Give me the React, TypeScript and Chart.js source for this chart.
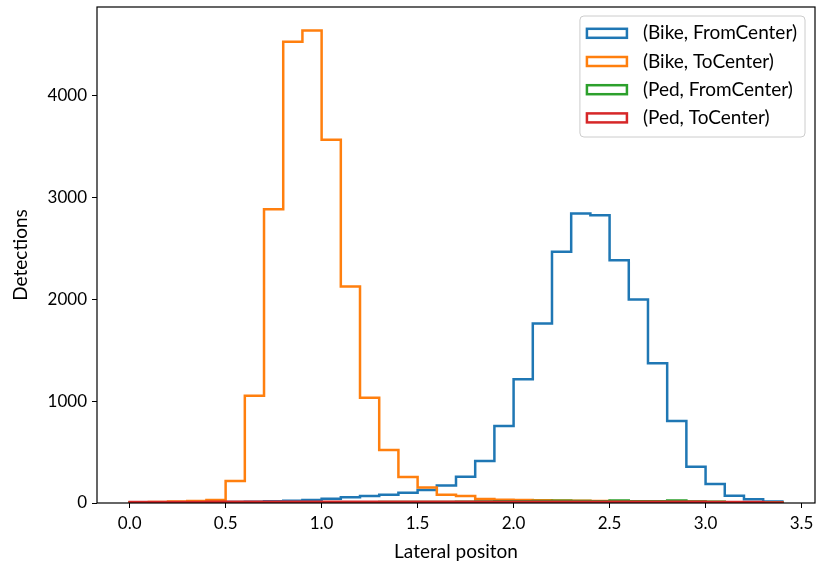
import React, { useEffect, useRef } from "react";
import { Chart, registerables } from "chart.js";

Chart.register(...registerables);

// Bin edges: 0.0 .. 3.4 step 0.1 (34 bins)
const binStart = 0.0;
const binWidth = 0.1;

const seriesLabels = ["(Bike, FromCenter)", "(Bike, ToCenter)", "(Ped, FromCenter)", "(Ped, ToCenter)"];
const seriesColors = ["#1f77b4", "#ff7f0e", "#2ca02c", "#d62728"];

const bikeFromCenter = [
  2, 3, 3, 4, 5, 9, 12, 16, 22, 30,
  42, 57, 68, 80, 100, 127, 172, 258, 412, 755,
  1213, 1762, 2464, 2839, 2822, 2382, 1997, 1370, 804, 356,
  186, 72, 38, 15,
];
const bikeToCenter = [
  8, 10, 15, 20, 29, 216, 1052, 2881, 4526, 4634,
  3564, 2124, 1032, 521, 256, 152, 80, 68, 40, 32,
  30, 28, 25, 22, 20, 18, 16, 15, 13, 12,
  10, 8, 6, 4,
];
const pedFromCenter = [
  2, 3, 3, 4, 4, 5, 5, 6, 6, 7,
  7, 8, 8, 9, 9, 10, 10, 12, 14, 16,
  18, 20, 22, 20, 18, 25, 18, 16, 25, 15,
  12, 8, 5, 3,
];
const pedToCenter = [
  10, 10, 11, 11, 12, 12, 12, 12, 12, 12,
  12, 12, 12, 12, 12, 12, 12, 12, 12, 12,
  12, 12, 12, 12, 12, 12, 12, 12, 12, 12,
  11, 10, 9, 6,
];

const xTicks = [0.0, 0.5, 1.0, 1.5, 2.0, 2.5, 3.0, 3.5];
const yTicks = [0, 1000, 2000, 3000, 4000];

const FONT = "Lato, 'DejaVu Sans', sans-serif";

function stepPoints(counts: number[]) {
  const pts: { x: number; y: number }[] = [{ x: binStart, y: 0 }];
  counts.forEach((c, i) => pts.push({ x: +(binStart + i * binWidth).toFixed(4), y: c }));
  const end = +(binStart + counts.length * binWidth).toFixed(4);
  pts.push({ x: end, y: counts[counts.length - 1] });
  pts.push({ x: end, y: 0 });
  return pts;
}

const legendPlugin = {
  id: "insideLegend",
  afterDraw(chart: any) {
    const { ctx, chartArea } = chart;
    ctx.save();
    // frame (spines)
    ctx.strokeStyle = "#000";
    ctx.lineWidth = 1.2;
    ctx.strokeRect(chartArea.left, chartArea.top, chartArea.right - chartArea.left, chartArea.bottom - chartArea.top);

    ctx.font = "19px " + FONT;
    const textW = Math.max(...seriesLabels.map((l) => ctx.measureText(l).width));
    const padL = 6, patchW = 42, gap = 15, padR = 8;
    const w = padL + patchW + gap + textW + padR;
    const rowH = 28.2;
    const h = 121;
    const x0 = chartArea.right - 10 - w;
    const y0 = chartArea.top + 9;
    ctx.beginPath();
    const r = 4;
    ctx.moveTo(x0 + r, y0);
    ctx.lineTo(x0 + w - r, y0);
    ctx.quadraticCurveTo(x0 + w, y0, x0 + w, y0 + r);
    ctx.lineTo(x0 + w, y0 + h - r);
    ctx.quadraticCurveTo(x0 + w, y0 + h, x0 + w - r, y0 + h);
    ctx.lineTo(x0 + r, y0 + h);
    ctx.quadraticCurveTo(x0, y0 + h, x0, y0 + h - r);
    ctx.lineTo(x0, y0 + r);
    ctx.quadraticCurveTo(x0, y0, x0 + r, y0);
    ctx.closePath();
    ctx.fillStyle = "rgba(255,255,255,0.8)";
    ctx.fill();
    ctx.strokeStyle = "#cccccc";
    ctx.lineWidth = 1;
    ctx.stroke();

    seriesLabels.forEach((label, i) => {
      const cy = y0 + 17.3 + i * rowH;
      ctx.fillStyle = "#ffffff";
      ctx.fillRect(x0 + padL + 1, cy - 4.5, patchW - 2, 9);
      ctx.strokeStyle = seriesColors[i];
      ctx.lineWidth = 2.5;
      ctx.strokeRect(x0 + padL + 1, cy - 4.5, patchW - 2, 9);
      ctx.fillStyle = "#000";
      ctx.textBaseline = "middle";
      ctx.textAlign = "left";
      ctx.fillText(label, x0 + padL + patchW + gap, cy);
    });
    ctx.restore();
  },
};

export default function App() {
  const ref = useRef<HTMLCanvasElement | null>(null);
  useEffect(() => {
    if (!ref.current) return;
    const all = [bikeFromCenter, bikeToCenter, pedFromCenter, pedToCenter];
    const yMax = Math.max(...all.flat()) * 1.05;
    const xEnd = binStart + bikeFromCenter.length * binWidth;
    const xPad = (xEnd - binStart) * 0.05;
    const chart = new Chart(ref.current, {
      type: "line",
      data: {
        datasets: all.map((d, i) => ({
          label: seriesLabels[i],
          data: stepPoints(d),
          borderColor: seriesColors[i],
          backgroundColor: "#ffffff",
          borderWidth: 2.5,
          pointRadius: 0,
          stepped: true,
          fill: false,
          tension: 0,
          order: all.length - i,
        })),
      },
      options: {
        animation: false,
        responsive: false,
        maintainAspectRatio: false,
        layout: { padding: { left: 0, top: 7, right: 4, bottom: 0 } },
        plugins: { legend: { display: false }, tooltip: { enabled: false } },
        scales: {
          x: {
            type: "linear",
            min: binStart - xPad,
            max: xEnd + xPad,
            afterBuildTicks: (s: any) => { s.ticks = xTicks.map((v) => ({ value: v })); },
            afterFit: (s: any) => { s.height = 67; s.paddingLeft = 0; s.paddingRight = 0; },
            grid: { display: true, drawOnChartArea: false, drawTicks: true, tickLength: 5, color: "#000", lineWidth: 1 },
            border: { display: false },
            ticks: { color: "#000", font: { family: FONT, size: 17 }, padding: 5, maxRotation: 0, callback: (v: any) => Number(v).toFixed(1) },
            title: { display: true, text: "Lateral positon", color: "#000", font: { family: FONT, size: 19 }, padding: { top: 2, bottom: 7 } },
          },
          y: {
            type: "linear",
            min: 0,
            max: yMax,
            afterBuildTicks: (s: any) => { s.ticks = yTicks.map((v) => ({ value: v })); },
            afterFit: (s: any) => { s.width = 97; s.paddingTop = 0; s.paddingBottom = 0; },
            grid: { display: true, drawOnChartArea: false, drawTicks: true, tickLength: 5, color: "#000", lineWidth: 1 },
            border: { display: false },
            ticks: { color: "#000", font: { family: FONT, size: 17 }, padding: 5, callback: (v: any) => String(v) },
            title: { display: true, text: "Detections", color: "#000", font: { family: FONT, size: 19 }, padding: { top: 9, bottom: 0 } },
          },
        },
      },
      plugins: [legendPlugin],
    });
    return () => chart.destroy();
  }, []);
  return (
    <div style={{ position: "fixed", left: 0, top: 0, width: 819, height: 570, background: "#fff" }}>
      <canvas ref={ref} width={819} height={570} style={{ width: 819, height: 570, display: "block" }} />
    </div>
  );
}
